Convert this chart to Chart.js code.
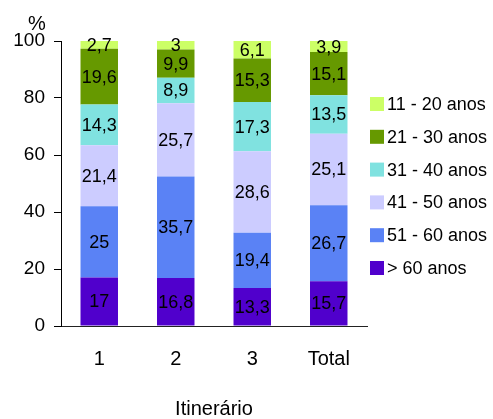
<!DOCTYPE html>
<html lang="pt">
<head>
<meta charset="utf-8">
<title>Itinerário por faixa etária</title>
<script src="https://cdn.jsdelivr.net/npm/chart.js@4.4.1/dist/chart.umd.min.js"></script>
<style>
  html, body { margin: 0; padding: 0; background: #ffffff; }
  #wrap { width: 493px; height: 419px; position: relative; }
</style>
</head>
<body>
<div id="wrap"><canvas id="chart" width="493" height="419"></canvas></div>
<script>
// Itinerários (eixo X)
const categories = ['1', '2', '3', 'Total'];

// Percentagem por faixa etária, de baixo para cima na pilha
const ageOver60 = [17, 16.8, 13.3, 15.7];
const age51to60 = [25, 35.7, 19.4, 26.7];
const age41to50 = [21.4, 25.7, 28.6, 25.1];
const age31to40 = [14.3, 8.9, 17.3, 13.5];
const age21to30 = [19.6, 9.9, 15.3, 15.1];
const age11to20 = [2.7, 3, 6.1, 3.9];

const seriesLabels = ['> 60 anos', '51 - 60 anos', '41 - 50 anos', '31 - 40 anos', '21 - 30 anos', '11 - 20 anos'];
const seriesValues = [ageOver60, age51to60, age41to50, age31to40, age21to30, age11to20];
const seriesColors = ['#5000CC', '#5A82F5', '#CCCCFF', '#80E2E0', '#669900', '#CCFF66'];

const yTicks = [0, 20, 40, 60, 80, 100];

const FONT = '"Liberation Sans", Arial, Helvetica, sans-serif';

const fmt = v => String(v).replace('.', ',');

// Valores escritos no centro de cada segmento
const segmentLabels = {
  id: 'segmentLabels',
  afterDatasetsDraw(chart) {
    const ctx = chart.ctx;
    ctx.save();
    ctx.font = '18px ' + FONT;
    ctx.fillStyle = '#000';
    ctx.textAlign = 'center';
    ctx.textBaseline = 'middle';
    chart.data.datasets.forEach((ds, i) => {
      chart.getDatasetMeta(i).data.forEach((bar, j) => {
        const y = (bar.y + bar.base) / 2;
        ctx.fillText(fmt(ds.data[j]), bar.x, y + 1);
      });
    });
    ctx.restore();
  }
};

// Legenda à direita (ordem inversa da pilha) e símbolo "%" do eixo Y
const sideLegend = {
  id: 'sideLegend',
  afterDraw(chart) {
    const ctx = chart.ctx;
    const area = chart.chartArea;
    ctx.save();
    ctx.font = '18px ' + FONT;
    ctx.textBaseline = 'middle';
    ctx.textAlign = 'left';
    const n = chart.data.datasets.length;
    const x0 = area.right + 3;
    const yStart = 104;
    const step = 32.8;
    for (let k = 0; k < n; k++) {
      const ds = chart.data.datasets[n - 1 - k];
      const cy = yStart + k * step;
      ctx.fillStyle = ds.backgroundColor;
      ctx.fillRect(x0, cy - 7, 14, 14);
      ctx.fillStyle = '#000';
      ctx.fillText(ds.label, x0 + 17, cy + 1);
    }
    ctx.font = '20px ' + FONT;
    ctx.textAlign = 'center';
    ctx.fillText('%', 37, 24);
    ctx.restore();
  }
};

new Chart(document.getElementById('chart'), {
  type: 'bar',
  data: {
    labels: categories,
    datasets: seriesLabels.map((label, i) => ({
      label: label,
      data: seriesValues[i],
      backgroundColor: seriesColors[i],
      borderWidth: 0,
      categoryPercentage: 1,
      barPercentage: 0.49
    }))
  },
  options: {
    responsive: false,
    animation: false,
    layout: { padding: { left: 0, right: 126, top: 41, bottom: 0 } },
    plugins: {
      legend: { display: false },
      tooltip: { enabled: false }
    },
    scales: {
      x: {
        stacked: true,
        grid: { display: false, drawTicks: false },
        border: { display: true, color: '#222', width: 1 },
        ticks: { color: '#000', font: { family: FONT, size: 20 }, padding: 21 },
        title: {
          display: true,
          text: 'Itinerário',
          color: '#000',
          font: { family: FONT, size: 20, lineHeight: 1 },
          padding: { top: 0, bottom: 0 }
        },
        afterFit(scale) { scale.height = 93; }
      },
      y: {
        stacked: true,
        min: 0,
        max: 100,
        afterBuildTicks(scale) { scale.ticks = yTicks.map(v => ({ value: v })); },
        grid: { drawOnChartArea: false, drawTicks: true, tickLength: 7, color: '#000' },
        border: { display: true, color: '#000', width: 1 },
        ticks: { color: '#000', font: { family: FONT, size: 19 }, padding: 9 },
        afterFit(scale) { scale.width = 61; }
      }
    }
  },
  plugins: [segmentLabels, sideLegend]
});
</script>
</body>
</html>
